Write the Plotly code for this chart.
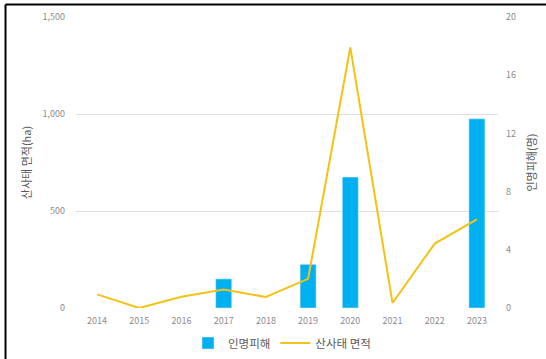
import plotly.graph_objects as go

years = ["2014", "2015", "2016", "2017", "2018", "2019", "2020", "2021", "2022", "2023"]
casualties = [None, None, None, 2, None, 3, 9, None, None, 13]      # 인명피해(명)
landslide_area = [70, 0, 58, 95, 57, 150, 1343, 26, 332, 457]       # 산사태 면적(ha)

BAR_COLOR = "#00B0F0"
LINE_COLOR = "#F2C314"
TICK_FONT = dict(family="Noto Sans CJK KR", size=9, color="#8c8c8c")
TITLE_FONT = dict(family="Noto Sans CJK KR", size=11, color="#595959")

fig = go.Figure()
fig.add_trace(go.Bar(
    x=years, y=casualties, name="인명피해", marker_color=BAR_COLOR,
    width=0.38, yaxis="y",
))
fig.add_trace(go.Scatter(
    x=years, y=landslide_area, name="산사태 면적", mode="lines",
    line=dict(color=LINE_COLOR, width=2), yaxis="y2",
))

L, R, T, B = 76, 48, 17, 51
W, H = 546, 359
pw, ph = W - L - R, H - T - B

def px_x(x):
    return (x - L) / pw

def px_y(y):
    return (H - B - y) / ph

fig.update_layout(
    width=W, height=H,
    margin=dict(l=L, r=R, t=T, b=B, pad=0, autoexpand=False),
    paper_bgcolor="white", plot_bgcolor="white",
    font=dict(family="Noto Sans CJK KR"),
    xaxis=dict(type="category", showgrid=False, showline=False, ticks="",
               tickfont=TICK_FONT, zeroline=False, ticklabelstandoff=6),
    yaxis=dict(side="right", range=[0, 20], dtick=4, showgrid=False, zeroline=False,
               tickfont=TICK_FONT, ticks="", showline=False, ticklabelstandoff=7,
               title=dict(text="인명피해(명)", font=TICK_FONT | dict(size=11, color="#595959"), standoff=13)),
    yaxis2=dict(side="left", overlaying="y", range=[0, 1500], dtick=500,
                tickformat=",", showgrid=True, gridcolor="#e0e0e0", gridwidth=1,
                zeroline=False, tickfont=TICK_FONT, ticks="", showline=False,
                ticklabelstandoff=10,
                title=dict(text="산사태 면적(ha)", font=TITLE_FONT, standoff=8)),
    showlegend=True,
    legend=dict(orientation="h", x=px_x(282), xanchor="center", y=px_y(343), yanchor="middle",
                font=dict(family="Noto Sans CJK KR", size=11.5, color="#595959"),
                bgcolor="rgba(0,0,0,0)", itemwidth=30),
    shapes=[
        dict(type="line", xref="paper", yref="paper",
             x0=px_x(5.5), x1=px_x(5.5), y0=px_y(4.5), y1=px_y(360),
             line=dict(color="black", width=2)),
        dict(type="line", xref="paper", yref="paper",
             x0=px_x(5.5), x1=px_x(547), y0=px_y(4.5), y1=px_y(4.5),
             line=dict(color="black", width=2)),
    ],
)

fig.write_html("out.html")
